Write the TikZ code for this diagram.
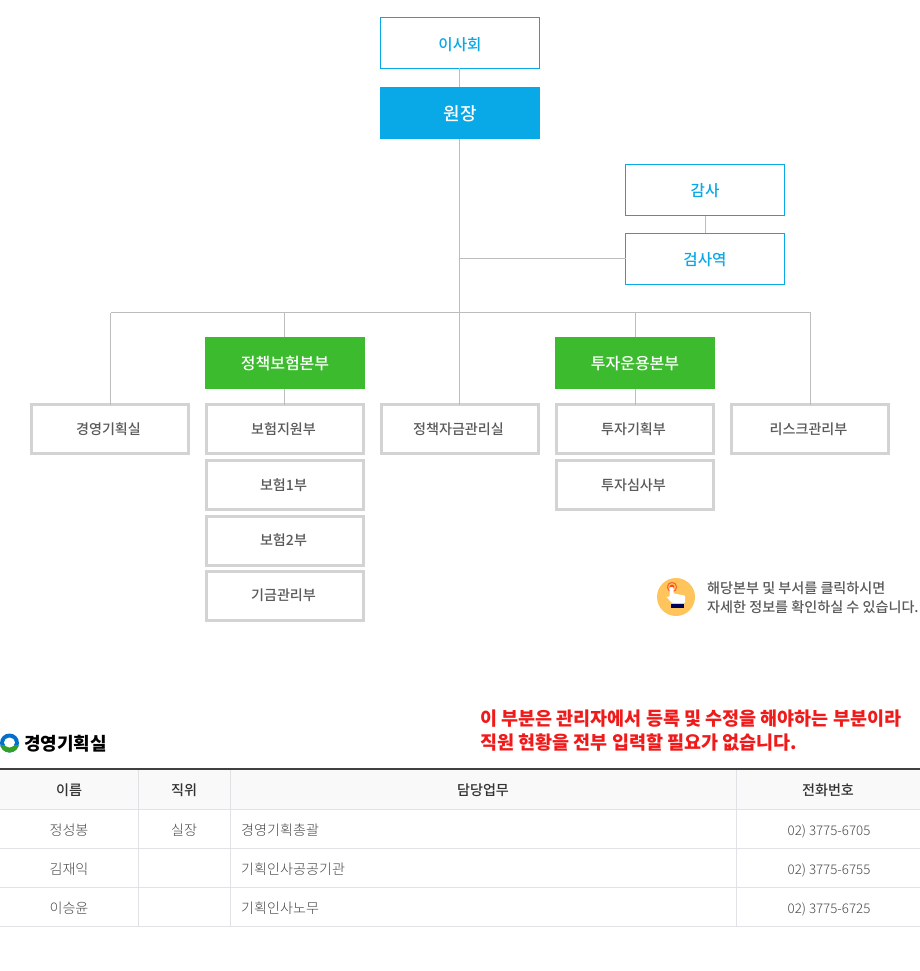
\documentclass[tikz,border=0pt]{standalone}
\usepackage{fontspec}
\setmainfont{Noto Sans CJK KR}
\newfontfamily\krmed{Noto Sans CJK KR Medium}
\newfontfamily\krlight{Noto Sans CJK KR Light}
\definecolor{cyanb}{HTML}{08A9E6}
\definecolor{greenb}{HTML}{3DBB2E}
\definecolor{greyb}{HTML}{D3D3D3}
\definecolor{linec}{HTML}{BDBDBD}
\definecolor{txtg}{HTML}{5A5A5A}
\definecolor{txtd}{HTML}{474747}
\definecolor{tline}{HTML}{E2E2E6}
\definecolor{thead}{HTML}{F9F9F9}
\definecolor{iconb}{HTML}{FFC45C}
\definecolor{redt}{HTML}{F01A1A}
\newcommand{\lbl}[3]{\raisebox{\dimexpr -0.42em - #2\relax}[0pt][0pt]{\hspace*{#1}#3}}
\tikzset{
 x=1pt,y=-1pt,
 conn/.style={draw=linec,line width=1pt},
 govbox/.style={draw=cyanb,line width=1pt,fill=white,minimum width=159pt,minimum height=51pt,inner sep=0pt,outer sep=0pt,text=cyanb,font=\krmed\fontsize{15.6}{18}\selectfont},
 chiefbox/.style={fill=cyanb,minimum width=160pt,minimum height=52pt,inner sep=0pt,outer sep=0pt,text=white,font=\krmed\fontsize{18}{20}\selectfont},
 divbox/.style={fill=greenb,minimum width=160pt,minimum height=52pt,inner sep=0pt,outer sep=0pt,text=white,font=\krmed\fontsize{16}{18}\selectfont},
 deptbox/.style={draw=greyb,line width=3pt,fill=white,minimum width=157pt,minimum height=49pt,inner sep=0pt,outer sep=0pt,text=txtg,font=\krmed\fontsize{14.1}{16}\selectfont},
 th/.style={inner sep=0pt,text=black!80,font=\krmed\fontsize{14.1}{16}\selectfont},
 td/.style={inner sep=0pt,text=txtd,font=\krlight\fontsize{14.1}{16}\selectfont},
 tn/.style={inner sep=0pt,text=txtd,font=\krlight\fontsize{13.3}{16}\selectfont},
 tl/.style={inner sep=0pt,anchor=west,text=txtd,font=\krlight\fontsize{14.1}{16}\selectfont},
 note/.style={inner sep=0pt,anchor=west,text=txtg,font=\krmed\fontsize{14.1}{16}\selectfont},
 redn/.style={inner sep=0pt,anchor=west,text=redt,font=\fontsize{18.5}{20}\selectfont\bfseries},
 rowl/.style={draw=tline,line width=1pt},
}
\begin{document}
\begin{tikzpicture}
\useasboundingbox (0,0) rectangle (920,971);
\fill[white] (0,0) rectangle (920,971);
% boxes
\node[govbox] (board) at (460,43) {\lbl{0pt}{1pt}{이사회}};
\node[chiefbox] (chief) at (460,113) {\lbl{0pt}{-0.5pt}{원장}};
\node[govbox] (audit) at (705,190) {\lbl{0pt}{0pt}{감사}};
\node[govbox] (insp) at (705,259) {\lbl{0pt}{0pt}{검사역}};
\node[divbox] (d1) at (285,363) {\lbl{0pt}{0pt}{정책보험본부}};
\node[divbox] (d2) at (635,363) {\lbl{0pt}{0pt}{투자운용본부}};
\node[deptbox] (a1) at (110,429) {\lbl{-3pt}{0pt}{경영기획실}};
\node[deptbox] (b1) at (285,429) {\lbl{-3pt}{0pt}{보험지원부}};
\node[deptbox] (b2) at (285,485) {\lbl{-3pt}{-0.5pt}{보험1부}};
\node[deptbox] (b3) at (285,541) {\lbl{-3pt}{-1.5pt}{보험2부}};
\node[deptbox] (b4) at (285,596) {\lbl{-3pt}{-1.5pt}{기금관리부}};
\node[deptbox] (c1) at (460,429) {\lbl{-3pt}{0pt}{정책자금관리실}};
\node[deptbox] (e1) at (635,429) {\lbl{-3pt}{0pt}{투자기획부}};
\node[deptbox] (e2) at (635,485) {\lbl{-3pt}{-0.5pt}{투자심사부}};
\node[deptbox] (f1) at (810,429) {\lbl{-3pt}{0pt}{리스크관리부}};
% junctions
\coordinate (j1) at (459.5,258.5);
\coordinate (j2) at (459.5,312.5);
\coordinate (jl) at (110.5,312.5);
\coordinate (jp) at (284.5,312.5);
\coordinate (ji) at (635.5,312.5);
\coordinate (jr) at (810.5,312.5);
% connectors
\draw[conn] (j2 |- board.south) -- (j2 |- chief.north);
\draw[conn] (j2 |- chief.south) -- (j2);
\draw[conn] (j1) -- (j1 -| insp.west);
\draw[conn] (705.5,216) -- (705.5,233);
\draw[conn] (jl) -- (jr);
\draw[conn] (jl) -- (jl |- a1.north);
\draw[conn] (jp) -- (jp |- d1.north);
\draw[conn] (j2) -- (j2 |- c1.north);
\draw[conn] (ji) -- (ji |- d2.north);
\draw[conn] (jr) -- (jr |- f1.north);
\draw[conn] (jp |- d1.south) -- (jp |- b1.north);
\draw[conn] (ji |- d2.south) -- (ji |- e1.north);
% hint icon
\fill[iconb] (676,597) circle (19);
\draw[red!55!orange!80!white,line width=1.1pt] (672,587) circle (4.6);
\fill[red!65!orange!85!white] (672,587) circle (2.4);
\fill[white,rounded corners=1pt] (669.5,587) -- (673.5,587) -- (673.5,593.5) -- (685,595.5) -- (685,603) -- (672,603) -- (666,596.5) -- (669.5,597) -- cycle;
\fill[blue!35!black] (671,604) rectangle (683.5,607.5);
\node[note] (n1) at (707,588.5) {해당본부 및 부서를 클릭하시면};
\node[note] (n2) at (707,607) {자세한 정보를 확인하실 수 있습니다.};
% red note
\node[redn] (r1) at (480,719) {이 부분은 관리자에서 등록 및 수정을 해야하는 부분이라};
\node[redn] (r2) at (480,743) {직원 현황을 전부 입력할 필요가 없습니다.};
% section title
\fill[blue!45!cyan!80!black] (9.5,743) circle (9.5);
\begin{scope}
\clip (0,745) rectangle (20,753);
\fill[greenb!85!black] (9.5,743) circle (9.5);
\end{scope}
\fill[white] (9.5,742.5) ellipse (5.5 and 5);
\node[inner sep=0pt,anchor=west,text=black,font=\fontsize{18}{21}\selectfont\bfseries] (title) at (24,743.5) {경영기획실};
% table
\fill[thead] (0,769) rectangle (920,809);
\draw[rowl] (0,809.5) -- (920,809.5);
\draw[rowl] (0,848.5) -- (920,848.5);
\draw[rowl] (0,887.5) -- (920,887.5);
\draw[rowl] (0,926.5) -- (920,926.5);
\foreach \x in {138.5,230.5,736.5} \draw[rowl] (\x,769) -- (\x,926);
\draw[draw=black!75,line width=2pt] (0,769) -- (920,769);
\node[th] (h1) at (69,790.5) {이름};
\node[th] (h2) at (184,790.5) {직위};
\node[th] (h3) at (483,790.5) {담당업무};
\node[th] (h4) at (828,790.5) {전화번호};
\node[td] (r1a) at (69,830) {정성봉};
\node[td] (r1b) at (184,830) {실장};
\node[tl] (r1c) at (241,830) {경영기획총괄};
\node[tn] (r1d) at (829,831) {02) 3775-6705};
\node[td] (r2a) at (69,869) {김재익};
\node[tl] (r2c) at (241,869) {기획인사공공기관};
\node[tn] (r2d) at (829,870) {02) 3775-6755};
\node[td] (r3a) at (69,908) {이승윤};
\node[tl] (r3c) at (241,908) {기획인사노무};
\node[tn] (r3d) at (829,909) {02) 3775-6725};
\end{tikzpicture}
\end{document}
